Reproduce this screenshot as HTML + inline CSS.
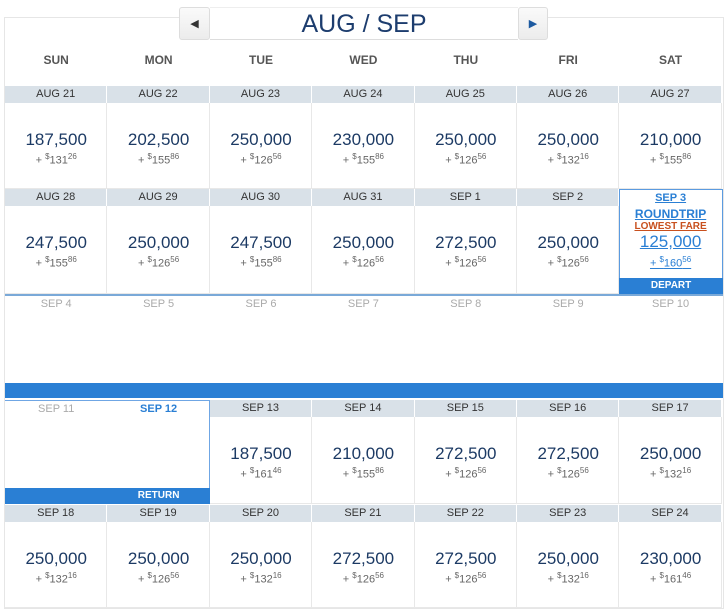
<!DOCTYPE html>
<html><head><meta charset="utf-8"><style>
*{margin:0;padding:0;box-sizing:border-box}
body{width:728px;height:613px;background:#fff;position:relative;overflow:hidden;font-family:"Liberation Sans","DejaVu Sans",sans-serif}
.a{position:absolute}
.frame{left:4px;top:17px;width:720px;height:592px;border:1px solid #e6e6e6}
.nav{top:7px;height:33px;background:linear-gradient(#fafafa,#ececec);border:1px solid #ddd;border-radius:3px;font-size:11px;display:flex;align-items:center;justify-content:center}
.title{left:210px;top:7px;width:308px;height:33px;background:#fff;color:#1d3d6e;font-size:25px;text-align:center;line-height:33px;border-top:1px solid #eee;border-bottom:1px solid #ddd}
.dn{top:53px;font-size:12px;font-weight:bold;color:#555;text-align:center}
.hd{height:17px;background:#d9e1e8;font-size:11px;color:#333;text-align:center;line-height:17px;border-right:1px solid #fff}
.cell{border-right:1px solid #e8e8e8;border-bottom:1px solid #e8e8e8}
.pr{font-size:17px;color:#1c3a64;text-align:center}
.sc{font-size:11px;color:#666;text-align:center}
.sc sup{font-size:8px}
.gl{font-size:11px;color:#aaa;text-align:center}
.bar{background:#2a7fd4;color:#fff;font-size:10px;font-weight:bold;text-align:center;line-height:16px}
</style></head><body>
<div class="a frame"></div>
<div class="a nav" style="left:179px;width:31px;color:#333">◀</div>
<div class="a title">AUG / SEP</div>
<div class="a nav" style="left:518px;width:30px;color:#1d5aa0">▶</div>
<div id="cal"></div>
<script>
const days=['SUN','MON','TUE','WED','THU','FRI','SAT'];
const rowDates=[['AUG 21','AUG 22','AUG 23','AUG 24','AUG 25','AUG 26','AUG 27'],
['AUG 28','AUG 29','AUG 30','AUG 31','SEP 1','SEP 2','SEP 3'],
['SEP 4','SEP 5','SEP 6','SEP 7','SEP 8','SEP 9','SEP 10'],
['SEP 11','SEP 12','SEP 13','SEP 14','SEP 15','SEP 16','SEP 17'],
['SEP 18','SEP 19','SEP 20','SEP 21','SEP 22','SEP 23','SEP 24']];
const miles=[['187,500','202,500','250,000','230,000','250,000','250,000','210,000'],
['247,500','250,000','247,500','250,000','272,500','250,000','125,000'],
[null,null,null,null,null,null,null],
[null,null,'187,500','210,000','272,500','272,500','250,000'],
['250,000','250,000','250,000','272,500','272,500','250,000','230,000']];
const fees=[['131.26','155.86','126.56','155.86','126.56','132.16','155.86'],
['155.86','126.56','155.86','126.56','126.56','126.56','160.56'],
[null,null,null,null,null,null,null],
[null,null,'161.46','155.86','126.56','126.56','132.16'],
['132.16','126.56','132.16','126.56','126.56','132.16','161.46']];
const rowTop=[86,189,295,400,505], rowH=[103,105,88,104,103];
const X0=5,CW=102.4;
const cal=document.getElementById('cal');
function mk(cls,st,html,name,inter){const d=document.createElement('div');d.className='a '+cls;d.style.cssText=st;d.innerHTML=html;


cal.appendChild(d);return d;}
days.forEach((d,i)=>mk('dn',`left:${X0+i*CW}px;width:${CW}px`,d,'weekday-'+d.toLowerCase(),'false'));
rowDates.forEach((row,r)=>{
 row.forEach((dt,c)=>{
  const x=X0+c*CW,y=rowTop[r];
  if(r==2||(r==3&&c<2)){
   const col=(r==3&&c==1)?'color:#2a7fd4;font-weight:bold':'';
   mk('gl',`left:${x}px;top:${y+3}px;width:${CW}px;${col}`,dt,'date-label','false');
   return;
  }
  if(r==1&&c==6){
   mk('',`left:${x}px;top:${y}px;width:${CW+1}px;height:${rowH[r]}px;border:1px solid #5b9be0;background:#fff`,'','selected-depart-cell','true');
   mk('',`left:${x}px;top:${y+3}px;width:${CW}px;text-align:center;font-size:11px;font-weight:bold;color:#2a7fd4;text-decoration:underline`,dt,'date-label','false');
   mk('',`left:${x}px;top:${y+18}px;width:${CW}px;text-align:center;font-size:12px;font-weight:bold;color:#2a7fd4;text-decoration:underline`,'ROUNDTRIP','roundtrip-label','false');
   mk('',`left:${x}px;top:${y+32}px;width:${CW}px;text-align:center;font-size:10px;font-weight:bold;color:#c8501e;text-decoration:underline`,'LOWEST FARE','lowest-fare-label','false');
   mk('pr',`left:${x}px;top:${y+43}px;width:${CW}px;color:#2a7fd4;text-decoration:underline`,miles[r][c],'miles-price','true');
   const f=fees[r][c].split('.');
   mk('sc',`left:${x}px;top:${y+66}px;width:${CW}px;color:#2a7fd4;text-decoration:underline`,`+ <sup>$</sup>${f[0]}<sup>${f[1]}</sup>`,'tax-fee','false');
   mk('bar',`left:${x}px;top:${y+89}px;width:${CW+1}px;height:16px`,'DEPART','depart-bar','false');
   return;
  }
  mk('cell',`left:${x}px;top:${y}px;width:${CW}px;height:${rowH[r]}px`,'','day-cell','true');
  mk('hd',`left:${x}px;top:${y}px;width:${CW}px`,dt,'date-header','false');
  if(miles[r][c]){
   mk('pr',`left:${x}px;top:${y+44}px;width:${CW}px`,miles[r][c],'miles-price','true');
   const f=fees[r][c].split('.');
   mk('sc',`left:${x}px;top:${y+66}px;width:${CW}px`,`+ <sup>$</sup>${f[0]}<sup>${f[1]}</sup>`,'tax-fee','false');
  }
 });
});
mk('',`left:5px;top:294px;width:718px;height:2px;background:#7aa9d8`,'','week-divider','false');
mk('',`left:5px;top:383px;width:718px;height:15px;background:#2a7fd4`,'','trip-range-bar','false');
mk('',`left:5px;top:400px;width:${2*CW}px;height:104px;border:1px solid #6fa6e4;border-left:none`,'','selected-return-cell','true');
mk('bar',`left:5px;top:488px;width:${2*CW}px;height:16px;padding-left:${CW}px`,'RETURN','return-bar','false');
</script>
</body></html>
